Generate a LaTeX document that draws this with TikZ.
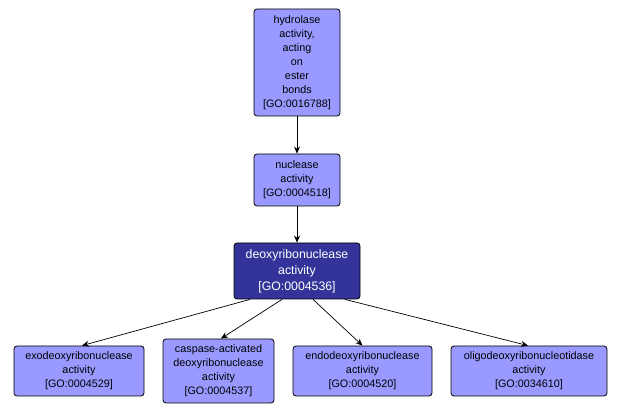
\documentclass[tikz,border=0pt]{standalone}
\usepackage{fontspec}
\setmainfont{Liberation Sans}
\usetikzlibrary{arrows.meta}
\definecolor{lightgo}{HTML}{9999FF}
\definecolor{darkgo}{HTML}{333399}
\tikzset{
  gobox/.style={draw=black, line width=0.8pt, rounded corners=3pt, fill=lightgo, align=center,
    font=\fontsize{10.8}{14}\selectfont, inner sep=0pt},
  gomain/.style={gobox, fill=darkgo, text=white, font=\fontsize{12.3}{16}\selectfont},
  goedge/.style={draw=black, line width=0.7pt, -{Stealth[length=7pt,width=6pt]}}
}
\begin{document}
\begin{tikzpicture}[x=1pt,y=-1pt]
\useasboundingbox (0,0) rectangle (622,414);
\node[gobox, minimum width=86, minimum height=107] (h) at (297,62.5) {hydrolase\\activity,\\acting\\on\\ester\\bonds\\{[}GO:0016788{]}};
\node[gobox, minimum width=86, minimum height=52] (n) at (297,180) {nuclease\\activity\\{[}GO:0004518{]}};
\node[gomain, minimum width=126, minimum height=56] (d) at (297,271) {deoxyribonuclease\\activity\\{[}GO:0004536{]}};
\node[gobox, minimum width=130, minimum height=50] (e1) at (79,371) {exodeoxyribonuclease\\activity\\{[}GO:0004529{]}};
\node[gobox, minimum width=111, minimum height=64] (e2) at (218.5,371) {caspase-activated\\deoxyribonuclease\\activity\\{[}GO:0004537{]}};
\node[gobox, minimum width=139, minimum height=50] (e3) at (362.5,371) {endodeoxyribonuclease\\activity\\{[}GO:0004520{]}};
\node[gobox, minimum width=156, minimum height=50] (e4) at (529,371) {oligodeoxyribonucleotidase\\activity\\{[}GO:0034610{]}};
\draw[goedge] (h.south) -- (n.north);
\draw[goedge] (n.south) -- (d.north);
\draw[goedge] ([xshift=-47]d.south) -- ([xshift=3]e1.north);
\draw[goedge] ([xshift=-15]d.south) -- ([xshift=2.5]e2.north);
\draw[goedge] ([xshift=16]d.south) -- (e3.north);
\draw[goedge] ([xshift=48]d.south) -- ([xshift=-1]e4.north);
\end{tikzpicture}
\end{document}
